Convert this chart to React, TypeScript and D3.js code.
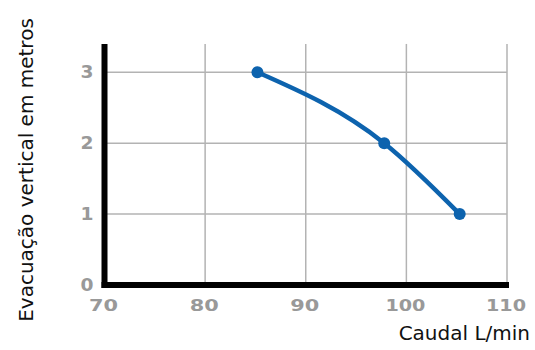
import React from "react";
import * as d3 from "d3";

const flowValues = [85.2, 97.8, 105.3];
const liftValues = [3, 2, 1];
const xTicks = [70, 80, 90, 100, 110];
const yTicks = [0, 1, 2, 3];
const xTitle = "Caudal L/min";
const yTitle = "Evacuação vertical em metros";

export default function App() {
  const W = 535, H = 350;
  const x = d3.scaleLinear().domain([70, 110]).range([104.5, 507]);
  const y = d3.scaleLinear().domain([0, 3]).range([285, 72.3]);
  const yTop = y(3.4);
  const pts = flowValues.map((f, i) => [x(f), y(liftValues[i])] as [number, number]);
  const line = d3.line().curve(d3.curveMonotoneX)(pts) || "";
  const tickFont = "'DejaVu Sans', Verdana, sans-serif";
  return (
    <svg width={W} height={H} style={{ position: "absolute", left: 0, top: 0, background: "#fff" }}>
      {xTicks.slice(1).map((t) => (
        <line key={"gx" + t} x1={x(t)} x2={x(t)} y1={yTop} y2={y(0)} stroke="#b3b3b3" strokeWidth={1.5} />
      ))}
      {yTicks.slice(1).map((t) => (
        <line key={"gy" + t} x1={x(70)} x2={x(110)} y1={y(t)} y2={y(t)} stroke="#b3b3b3" strokeWidth={1.5} />
      ))}
      <line x1={x(70)} x2={x(70)} y1={yTop} y2={y(0) + 3} stroke="#000" strokeWidth={6} />
      <line x1={x(70) - 3} x2={x(110) + 2} y1={y(0)} y2={y(0)} stroke="#000" strokeWidth={6} />
      {xTicks.map((t) => {
        const s = String(t);
        return (
          <text key={"tx" + t} x={x(t) - 1} y={305} textAnchor="middle" dominantBaseline="central"
            fontFamily={tickFont} fontWeight="bold" fontSize={16} fill="#999"
            textLength={s.length === 3 ? 40 : 29} lengthAdjust="spacingAndGlyphs">{s}</text>
        );
      })}
      {yTicks.map((t) => (
        <text key={"ty" + t} x={87} y={y(t)} textAnchor="middle" dominantBaseline="central"
          fontFamily={tickFont} fontWeight="bold" fontSize={17} fill="#999"
          textLength={13} lengthAdjust="spacingAndGlyphs">{t}</text>
      ))}
      <path d={line} fill="none" stroke="#0d63ae" strokeWidth={4.5} strokeLinecap="round" />
      {pts.map((p, i) => (
        <circle key={"p" + i} cx={p[0]} cy={p[1]} r={6} fill="#0d63ae" />
      ))}
      <text x={530} y={340} textAnchor="end" fontFamily="'DejaVu Sans', Verdana, sans-serif" fontSize={20} fill="#111">{xTitle}</text>
      <text transform={`translate(33,170) rotate(-90)`} textAnchor="middle" fontFamily="'DejaVu Sans', Verdana, sans-serif" fontSize={20} fill="#111">{yTitle}</text>
    </svg>
  );
}
